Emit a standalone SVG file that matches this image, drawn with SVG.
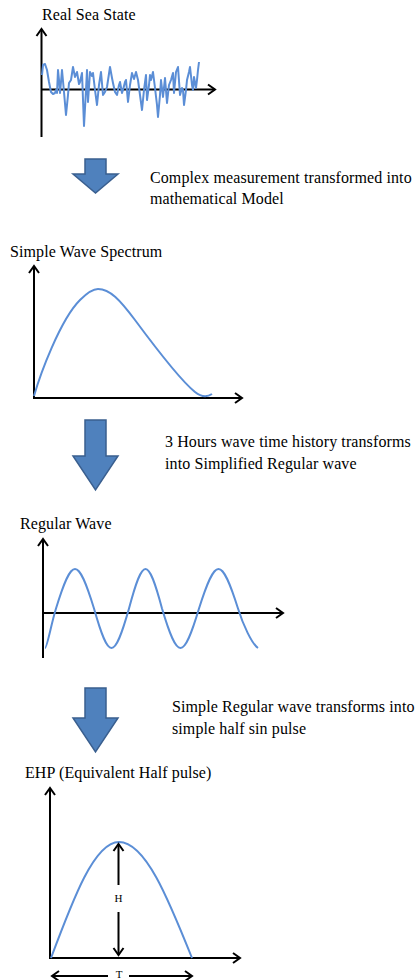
<svg xmlns="http://www.w3.org/2000/svg" width="416" height="980" viewBox="0 0 416 980">
<style>
.t{font-family:"Liberation Serif","Times New Roman",serif;font-size:16px;letter-spacing:0.1px;fill:#000}
.s{font-family:"Liberation Serif","Times New Roman",serif;font-size:11px;fill:#000}
.ax{stroke:#000;stroke-width:2;fill:none}
.cv{stroke:#5B8ED6;stroke-width:2;fill:none;stroke-linejoin:round}
.ba{fill:#4F81BD;stroke:#3A5F8F;stroke-width:1.5}
</style>
<defs>
<marker id="ah" markerUnits="userSpaceOnUse" markerWidth="14" markerHeight="14" refX="8" refY="6" orient="auto-start-reverse" viewBox="0 0 14 12">
<path d="M1,1 L8,6 L1,11" fill="none" stroke="#000" stroke-width="2"/>
</marker>
</defs>
<rect width="416" height="980" fill="#fff"/>

<g id="real-sea-state">
<text class="t" x="42" y="20">Real Sea State</text>
<line class="ax" x1="41.5" y1="137" x2="41.5" y2="29" marker-end="url(#ah)"/>
<line class="ax" x1="41" y1="89.5" x2="215" y2="89.5" marker-end="url(#ah)"/>
<polyline class="cv" stroke-width="1.5" points="42,75 43,65 45,64 47,70 49,82 51,92 53,94 55,93 56,90 57,93 58,70 59,80 60,93 61,82 62,70 64,92 66,115 68,95 69,83 71,80 73,67 75,77 77,72 79,84 80,82 82,73 84,126 86,90 87,70 88,102 90,72 92,76 93,73 95,90 97,105 99,85 101,72 103,95 105,92 107,87 110,67 112,78 113,83 115,92 117,95 119,85 120,82 122,93 123,90 125,82 126,80 128,102 130,85 132,73 134,79 136,72 138,80 140,95 142,110 144,90 146,75 147,100 149,85 150,75 151,80 153,72 155,88 157,105 158,117 160,95 161,80 163,97 165,78 167,103 169,85 171,80 173,73 174,93 176,72 178,67 180,95 182,88 183,90 184,105 186,90 187,80 189,72 190,67 192,85 193,90 194,77 196,88 197,80 198,70 199,62"/>
</g>

<g id="step1">
<path class="ba" d="M85,159 H106 V174 H118 L95.5,193 L73,174 H85 Z"/>
<text class="t" x="150" y="183">Complex measurement transformed into</text>
<text class="t" x="150" y="204">mathematical Model</text>
</g>

<g id="wave-spectrum">
<text class="t" x="10" y="257">Simple Wave Spectrum</text>
<line class="ax" x1="34" y1="398" x2="34" y2="266" marker-end="url(#ah)"/>
<line class="ax" x1="33" y1="398" x2="242" y2="398" marker-end="url(#ah)"/>
<path class="cv" d="M34,396 C40,375 60,320 80,300 C88,292 93,289 98,289 C110,289 120,300 135,320 C155,347 180,380 195,392 C200,396 206,398 212,394"/>
</g>

<g id="step2">
<path class="ba" d="M85,420 H106 V456 H118 L95.5,490 L73,456 H85 Z"/>
<text class="t" x="165" y="447">3 Hours wave time history transforms</text>
<text class="t" x="165" y="469">into Simplified Regular wave</text>
</g>

<g id="regular-wave">
<text class="t" x="20" y="529">Regular Wave</text>
<line class="ax" x1="43" y1="658" x2="43" y2="539" marker-end="url(#ah)"/>
<line class="ax" x1="43" y1="613" x2="283" y2="613" marker-end="url(#ah)"/>
<path class="cv" d="M45,648 C47,648 51,624.8 56,608.5 C72.1,555.8 77.9,555.8 94,608.5 C108.9,661.2 114.1,661.2 129,608.5 C143,555.8 148,555.8 162,608.5 C177.7,661.2 183.3,661.2 199,608.5 C215.6,555.8 221.4,555.8 238,608.5 C243,624.8 252,644 258,648"/>
</g>

<g id="step3">
<path class="ba" d="M85,688 H106 V718 H118 L95.5,752 L73,718 H85 Z"/>
<text class="t" x="172" y="712">Simple Regular wave transforms into</text>
<text class="t" x="172" y="734">simple half sin pulse</text>
</g>

<g id="ehp">
<text class="t" x="25" y="778">EHP (Equivalent Half pulse)</text>
<line class="ax" x1="50" y1="958" x2="50" y2="788" marker-end="url(#ah)"/>
<line class="ax" x1="49" y1="958" x2="240" y2="958" marker-end="url(#ah)"/>
<path class="cv" d="M51,958 C73.2,898.6 94.4,842 119,842 C145.4,842 168.2,898.6 192,958"/>
<line class="ax" x1="118.5" y1="885" x2="118.5" y2="844" marker-end="url(#ah)"/>
<line class="ax" x1="118.5" y1="912" x2="118.5" y2="955" marker-end="url(#ah)"/>
<text class="s" x="118.5" y="902" text-anchor="middle">H</text>
<line class="ax" x1="108" y1="976" x2="52" y2="976" marker-end="url(#ah)"/>
<line class="ax" x1="129" y1="976" x2="192" y2="976" marker-end="url(#ah)"/>
<text class="s" x="119" y="978" text-anchor="middle">T</text>
</g>
</svg>
